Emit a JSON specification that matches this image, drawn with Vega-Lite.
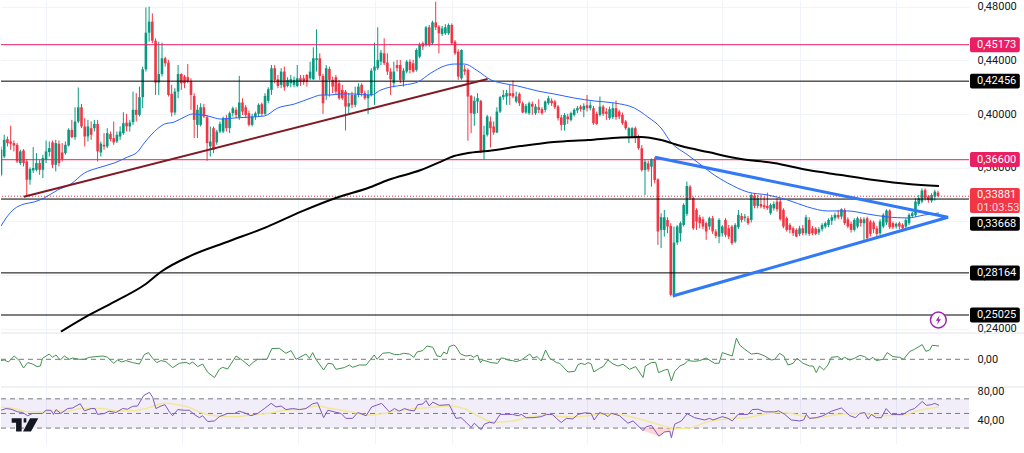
{"$schema":"https://vega.github.io/schema/vega-lite/v6.json","padding":0,"spacing":0,"bounds":"flush","background":"#ffffff","config":{"view":{"stroke":null},"axis":{"labelFont":"Roboto","labelFontSize":11,"labelColor":"#131722"}},
"datasets":{
"candles":[
{"t":0,"o":0.3548,"c":0.3734,"h":0.3759,"l":0.3536},{"t":1,"o":0.3684,"c":0.3808,"h":0.3846,"l":0.3672},{"t":2,"o":0.3813,"c":0.3784,"h":0.3833,"l":0.3759},{"t":3,"o":0.3796,"c":0.3779,"h":0.3913,"l":0.3734},{"t":4,"o":0.3784,"c":0.3766,"h":0.3803,"l":0.3722},{"t":5,"o":0.3771,"c":0.3647,"h":0.3784,"l":0.3635},{"t":6,"o":0.3635,"c":0.3722,"h":0.3734,"l":0.3622},{"t":7,"o":0.3729,"c":0.3635,"h":0.3739,"l":0.361},{"t":8,"o":0.3647,"c":0.3511,"h":0.366,"l":0.3387},{"t":9,"o":0.3511,"c":0.359,"h":0.3603,"l":0.3474},
{"t":10,"o":0.358,"c":0.3598,"h":0.3754,"l":0.356},{"t":11,"o":0.3585,"c":0.3635,"h":0.3709,"l":0.3573},{"t":12,"o":0.3635,"c":0.3585,"h":0.366,"l":0.3548},{"t":13,"o":0.3585,"c":0.3672,"h":0.3697,"l":0.3523},{"t":14,"o":0.366,"c":0.3722,"h":0.3803,"l":0.3635},{"t":15,"o":0.3717,"c":0.3746,"h":0.3796,"l":0.3684},{"t":16,"o":0.3789,"c":0.3622,"h":0.3803,"l":0.3598},{"t":17,"o":0.3622,"c":0.3784,"h":0.3808,"l":0.3573},{"t":18,"o":0.3779,"c":0.3635,"h":0.3803,"l":0.361},{"t":19,"o":0.3714,"c":0.3665,"h":0.3784,"l":0.3647},
{"t":20,"o":0.3709,"c":0.3771,"h":0.3796,"l":0.3697},{"t":21,"o":0.3766,"c":0.3883,"h":0.3895,"l":0.3759},{"t":22,"o":0.3883,"c":0.3828,"h":0.3957,"l":0.3821},{"t":23,"o":0.3828,"c":0.3945,"h":0.4051,"l":0.3808},{"t":24,"o":0.3945,"c":0.4051,"h":0.4198,"l":0.3932},{"t":25,"o":0.4051,"c":0.3908,"h":0.4076,"l":0.3895},{"t":26,"o":0.3908,"c":0.3833,"h":0.397,"l":0.3759},{"t":27,"o":0.3833,"c":0.3908,"h":0.3957,"l":0.3796},{"t":28,"o":0.3895,"c":0.3846,"h":0.3945,"l":0.3808},{"t":29,"o":0.3895,"c":0.3927,"h":0.3957,"l":0.387},
{"t":30,"o":0.3927,"c":0.3722,"h":0.3957,"l":0.3647},{"t":31,"o":0.3714,"c":0.3779,"h":0.3796,"l":0.3684},{"t":32,"o":0.3771,"c":0.3759,"h":0.3858,"l":0.3734},{"t":33,"o":0.3759,"c":0.3858,"h":0.3895,"l":0.3746},{"t":34,"o":0.3851,"c":0.3813,"h":0.387,"l":0.3796},{"t":35,"o":0.3821,"c":0.3789,"h":0.3945,"l":0.3771},{"t":36,"o":0.3796,"c":0.3846,"h":0.387,"l":0.3784},{"t":37,"o":0.3833,"c":0.387,"h":0.3908,"l":0.3808},{"t":38,"o":0.3858,"c":0.3932,"h":0.4014,"l":0.3846},{"t":39,"o":0.3937,"c":0.3908,"h":0.4002,"l":0.387},
{"t":40,"o":0.3908,"c":0.3937,"h":0.3957,"l":0.387},{"t":41,"o":0.394,"c":0.4032,"h":0.4168,"l":0.392},{"t":42,"o":0.4032,"c":0.3994,"h":0.4156,"l":0.3945},{"t":43,"o":0.3994,"c":0.4126,"h":0.4205,"l":0.3982},{"t":44,"o":0.4126,"c":0.4334,"h":0.4354,"l":0.4044},{"t":45,"o":0.4334,"c":0.4607,"h":0.4795,"l":0.4317},{"t":46,"o":0.4607,"c":0.4689,"h":0.48,"l":0.454},{"t":47,"o":0.4689,"c":0.4547,"h":0.4751,"l":0.4528},{"t":48,"o":0.4547,"c":0.4235,"h":0.4565,"l":0.4143},{"t":49,"o":0.4235,"c":0.4299,"h":0.454,"l":0.4143},
{"t":50,"o":0.4299,"c":0.4416,"h":0.4533,"l":0.428},{"t":51,"o":0.4416,"c":0.4379,"h":0.4428,"l":0.4354},{"t":52,"o":0.4384,"c":0.4143,"h":0.4404,"l":0.4131},{"t":53,"o":0.4151,"c":0.4012,"h":0.4218,"l":0.3982},{"t":54,"o":0.4012,"c":0.4168,"h":0.4193,"l":0.3994},{"t":55,"o":0.4168,"c":0.4299,"h":0.4366,"l":0.4118},{"t":56,"o":0.4299,"c":0.423,"h":0.4304,"l":0.418},{"t":57,"o":0.428,"c":0.423,"h":0.4292,"l":0.4193},{"t":58,"o":0.4275,"c":0.4242,"h":0.4374,"l":0.423},{"t":59,"o":0.4247,"c":0.4143,"h":0.4267,"l":0.4032},
{"t":60,"o":0.4136,"c":0.3957,"h":0.4156,"l":0.3821},{"t":61,"o":0.392,"c":0.4032,"h":0.4069,"l":0.3821},{"t":62,"o":0.392,"c":0.4051,"h":0.4081,"l":0.3908},{"t":63,"o":0.4051,"c":0.3982,"h":0.4076,"l":0.397},{"t":64,"o":0.3977,"c":0.3784,"h":0.3994,"l":0.3652},{"t":65,"o":0.3759,"c":0.3796,"h":0.3908,"l":0.3684},{"t":66,"o":0.3895,"c":0.3734,"h":0.3908,"l":0.3709},{"t":67,"o":0.3789,"c":0.387,"h":0.3883,"l":0.3771},{"t":68,"o":0.387,"c":0.3927,"h":0.3945,"l":0.3858},{"t":69,"o":0.387,"c":0.397,"h":0.3982,"l":0.3858},
{"t":70,"o":0.397,"c":0.3895,"h":0.3994,"l":0.387},{"t":71,"o":0.3895,"c":0.4007,"h":0.4019,"l":0.3858},{"t":72,"o":0.4007,"c":0.4044,"h":0.4056,"l":0.3982},{"t":73,"o":0.4032,"c":0.3994,"h":0.4051,"l":0.397},{"t":74,"o":0.3975,"c":0.4086,"h":0.4285,"l":0.3957},{"t":75,"o":0.4086,"c":0.4019,"h":0.4118,"l":0.3994},{"t":76,"o":0.4051,"c":0.3994,"h":0.4069,"l":0.397},{"t":77,"o":0.4007,"c":0.392,"h":0.4027,"l":0.3908},{"t":78,"o":0.392,"c":0.3982,"h":0.4002,"l":0.3908},{"t":79,"o":0.3982,"c":0.4007,"h":0.4019,"l":0.3957},
{"t":80,"o":0.4002,"c":0.4069,"h":0.4081,"l":0.3982},{"t":81,"o":0.4074,"c":0.4002,"h":0.4086,"l":0.3987},{"t":82,"o":0.4002,"c":0.4136,"h":0.4156,"l":0.3994},{"t":83,"o":0.4099,"c":0.4185,"h":0.42,"l":0.4081},{"t":84,"o":0.418,"c":0.4342,"h":0.4366,"l":0.4143},{"t":85,"o":0.4342,"c":0.4255,"h":0.4366,"l":0.423},{"t":86,"o":0.426,"c":0.421,"h":0.4292,"l":0.4193},{"t":87,"o":0.4218,"c":0.4317,"h":0.4342,"l":0.4193},{"t":88,"o":0.4317,"c":0.42,"h":0.4354,"l":0.4175},{"t":89,"o":0.421,"c":0.4255,"h":0.4275,"l":0.42},
{"t":90,"o":0.423,"c":0.426,"h":0.4292,"l":0.42},{"t":91,"o":0.4218,"c":0.4255,"h":0.428,"l":0.42},{"t":92,"o":0.421,"c":0.4267,"h":0.4366,"l":0.42},{"t":93,"o":0.4267,"c":0.4242,"h":0.4292,"l":0.421},{"t":94,"o":0.4267,"c":0.4242,"h":0.4292,"l":0.4218},{"t":95,"o":0.4292,"c":0.4242,"h":0.4299,"l":0.4205},{"t":96,"o":0.4267,"c":0.4317,"h":0.4391,"l":0.4255},{"t":97,"o":0.426,"c":0.4416,"h":0.4498,"l":0.4255},{"t":98,"o":0.4404,"c":0.4416,"h":0.4632,"l":0.4317},{"t":99,"o":0.4416,"c":0.4285,"h":0.4453,"l":0.4255},
{"t":100,"o":0.4285,"c":0.4081,"h":0.4299,"l":0.4002},{"t":101,"o":0.4143,"c":0.4342,"h":0.4366,"l":0.4106},{"t":102,"o":0.4337,"c":0.4255,"h":0.4354,"l":0.4131},{"t":103,"o":0.4255,"c":0.4205,"h":0.428,"l":0.4156},{"t":104,"o":0.4275,"c":0.4168,"h":0.4292,"l":0.4143},{"t":105,"o":0.423,"c":0.4118,"h":0.4255,"l":0.4106},{"t":106,"o":0.418,"c":0.4118,"h":0.4218,"l":0.4106},{"t":107,"o":0.4168,"c":0.4056,"h":0.418,"l":0.3878},{"t":108,"o":0.4056,"c":0.4081,"h":0.4156,"l":0.4007},{"t":109,"o":0.4143,"c":0.4069,"h":0.4168,"l":0.4044},
{"t":110,"o":0.4069,"c":0.4143,"h":0.4205,"l":0.4051},{"t":111,"o":0.4143,"c":0.4205,"h":0.423,"l":0.4126},{"t":112,"o":0.4218,"c":0.4156,"h":0.423,"l":0.4131},{"t":113,"o":0.4156,"c":0.4118,"h":0.4175,"l":0.4106},{"t":114,"o":0.4118,"c":0.4143,"h":0.418,"l":0.4},{"t":115,"o":0.4143,"c":0.4324,"h":0.4342,"l":0.4131},{"t":116,"o":0.4324,"c":0.4354,"h":0.4533,"l":0.4069},{"t":117,"o":0.4342,"c":0.4404,"h":0.4647,"l":0.4329},{"t":118,"o":0.4391,"c":0.4458,"h":0.4478,"l":0.4366},{"t":119,"o":0.4453,"c":0.4379,"h":0.4565,"l":0.4366},
{"t":120,"o":0.4384,"c":0.4317,"h":0.4453,"l":0.4292},{"t":121,"o":0.4317,"c":0.426,"h":0.4342,"l":0.4143},{"t":122,"o":0.423,"c":0.4317,"h":0.4391,"l":0.42},{"t":123,"o":0.4366,"c":0.4342,"h":0.4404,"l":0.4317},{"t":124,"o":0.4366,"c":0.4255,"h":0.4404,"l":0.423},{"t":125,"o":0.4255,"c":0.4324,"h":0.4342,"l":0.4205},{"t":126,"o":0.4317,"c":0.4391,"h":0.4404,"l":0.4304},{"t":127,"o":0.4391,"c":0.4329,"h":0.4409,"l":0.4304},{"t":128,"o":0.4379,"c":0.4317,"h":0.4404,"l":0.4309},{"t":129,"o":0.4329,"c":0.4478,"h":0.449,"l":0.4317},
{"t":130,"o":0.4428,"c":0.4515,"h":0.4533,"l":0.4416},{"t":131,"o":0.4528,"c":0.4503,"h":0.454,"l":0.4478},{"t":132,"o":0.4515,"c":0.4647,"h":0.4657,"l":0.4503},{"t":133,"o":0.4647,"c":0.4515,"h":0.4664,"l":0.4503},{"t":134,"o":0.4528,"c":0.4684,"h":0.4696,"l":0.4515},{"t":135,"o":0.4684,"c":0.4647,"h":0.4838,"l":0.4627},{"t":136,"o":0.4652,"c":0.4602,"h":0.4664,"l":0.4453},{"t":137,"o":0.4597,"c":0.4639,"h":0.4657,"l":0.4582},{"t":138,"o":0.4602,"c":0.4647,"h":0.4671,"l":0.459},{"t":139,"o":0.4602,"c":0.4664,"h":0.4676,"l":0.459},
{"t":140,"o":0.4664,"c":0.4528,"h":0.4676,"l":0.4515},{"t":141,"o":0.454,"c":0.4453,"h":0.4552,"l":0.4441},{"t":142,"o":0.4466,"c":0.428,"h":0.4483,"l":0.4255},{"t":143,"o":0.4267,"c":0.4478,"h":0.4483,"l":0.4255},{"t":144,"o":0.4334,"c":0.4317,"h":0.4366,"l":0.4292},{"t":145,"o":0.4329,"c":0.4131,"h":0.4342,"l":0.3801},{"t":146,"o":0.4136,"c":0.4007,"h":0.4143,"l":0.3858},{"t":147,"o":0.4002,"c":0.4099,"h":0.4131,"l":0.3913},{"t":148,"o":0.4094,"c":0.4118,"h":0.4156,"l":0.4007},{"t":149,"o":0.4099,"c":0.3722,"h":0.4106,"l":0.3709},
{"t":150,"o":0.3722,"c":0.3846,"h":0.3913,"l":0.366},{"t":151,"o":0.3846,"c":0.3982,"h":0.3994,"l":0.3833},{"t":152,"o":0.3945,"c":0.3895,"h":0.3982,"l":0.3751},{"t":153,"o":0.3908,"c":0.3863,"h":0.3945,"l":0.3846},{"t":154,"o":0.3863,"c":0.4019,"h":0.4051,"l":0.3858},{"t":155,"o":0.4019,"c":0.4126,"h":0.4136,"l":0.4007},{"t":156,"o":0.4126,"c":0.4143,"h":0.418,"l":0.4106},{"t":157,"o":0.4131,"c":0.4156,"h":0.418,"l":0.4069},{"t":158,"o":0.4156,"c":0.4136,"h":0.4218,"l":0.4069},{"t":159,"o":0.4156,"c":0.4131,"h":0.425,"l":0.4118},
{"t":160,"o":0.4094,"c":0.4131,"h":0.4168,"l":0.4081},{"t":161,"o":0.4151,"c":0.4081,"h":0.4161,"l":0.4061},{"t":162,"o":0.4081,"c":0.4012,"h":0.4094,"l":0.4007},{"t":163,"o":0.4012,"c":0.4061,"h":0.4076,"l":0.4002},{"t":164,"o":0.4007,"c":0.4081,"h":0.4094,"l":0.3994},{"t":165,"o":0.4076,"c":0.4056,"h":0.4094,"l":0.3994},{"t":166,"o":0.4007,"c":0.4056,"h":0.4076,"l":0.3994},{"t":167,"o":0.4051,"c":0.4032,"h":0.4111,"l":0.4007},{"t":168,"o":0.4037,"c":0.4007,"h":0.4051,"l":0.3994},{"t":169,"o":0.4032,"c":0.4094,"h":0.4101,"l":0.4012},
{"t":170,"o":0.4081,"c":0.4118,"h":0.4136,"l":0.4069},{"t":171,"o":0.4101,"c":0.4081,"h":0.4118,"l":0.4061},{"t":172,"o":0.4094,"c":0.4051,"h":0.4106,"l":0.4037},{"t":173,"o":0.4056,"c":0.397,"h":0.4069,"l":0.3952},{"t":174,"o":0.3975,"c":0.392,"h":0.3994,"l":0.3878},{"t":175,"o":0.392,"c":0.3994,"h":0.4007,"l":0.3878},{"t":176,"o":0.3982,"c":0.3962,"h":0.4002,"l":0.3927},{"t":177,"o":0.3957,"c":0.4007,"h":0.4019,"l":0.3945},{"t":178,"o":0.3994,"c":0.4032,"h":0.4044,"l":0.3982},{"t":179,"o":0.4027,"c":0.4044,"h":0.4061,"l":0.4007},
{"t":180,"o":0.4056,"c":0.4037,"h":0.4069,"l":0.4019},{"t":181,"o":0.4032,"c":0.4061,"h":0.4081,"l":0.3977},{"t":182,"o":0.4066,"c":0.4044,"h":0.4143,"l":0.4019},{"t":183,"o":0.4044,"c":0.4066,"h":0.4094,"l":0.4027},{"t":184,"o":0.4044,"c":0.3932,"h":0.4061,"l":0.392},{"t":185,"o":0.4002,"c":0.3927,"h":0.4019,"l":0.392},{"t":186,"o":0.3994,"c":0.4056,"h":0.4131,"l":0.3982},{"t":187,"o":0.4056,"c":0.4002,"h":0.4069,"l":0.3987},{"t":188,"o":0.4019,"c":0.4002,"h":0.4044,"l":0.3957},{"t":189,"o":0.397,"c":0.4037,"h":0.4056,"l":0.3957},
{"t":190,"o":0.3977,"c":0.4044,"h":0.4081,"l":0.3962},{"t":191,"o":0.4044,"c":0.3977,"h":0.4101,"l":0.3957},{"t":192,"o":0.4019,"c":0.3982,"h":0.4032,"l":0.3962},{"t":193,"o":0.3994,"c":0.3932,"h":0.4012,"l":0.392},{"t":194,"o":0.3945,"c":0.3895,"h":0.3957,"l":0.3883},{"t":195,"o":0.3838,"c":0.3895,"h":0.3903,"l":0.3784},{"t":196,"o":0.3833,"c":0.3895,"h":0.3903,"l":0.3821},{"t":197,"o":0.3895,"c":0.3821,"h":0.3908,"l":0.3784},{"t":198,"o":0.3833,"c":0.3746,"h":0.3846,"l":0.3734},{"t":199,"o":0.3745,"c":0.3583,"h":0.3769,"l":0.3571},
{"t":200,"o":0.3583,"c":0.3645,"h":0.3663,"l":0.3397},{"t":201,"o":0.3633,"c":0.3588,"h":0.3653,"l":0.3571},{"t":202,"o":0.3608,"c":0.3663,"h":0.367,"l":0.3459},{"t":203,"o":0.3663,"c":0.3509,"h":0.3678,"l":0.3484},{"t":204,"o":0.3514,"c":0.3125,"h":0.3521,"l":0.3025},{"t":205,"o":0.3137,"c":0.3231,"h":0.3261,"l":0.3001},{"t":206,"o":0.3137,"c":0.3231,"h":0.3286,"l":0.3087},{"t":207,"o":0.3211,"c":0.3162,"h":0.3231,"l":0.3112},{"t":208,"o":0.3167,"c":0.2653,"h":0.3187,"l":0.2641},{"t":209,"o":0.2653,"c":0.3043,"h":0.3162,"l":0.2634},
{"t":210,"o":0.3043,"c":0.3162,"h":0.3174,"l":0.3025},{"t":211,"o":0.3112,"c":0.3187,"h":0.3199,"l":0.305},{"t":212,"o":0.3174,"c":0.3323,"h":0.3335,"l":0.3162},{"t":213,"o":0.3256,"c":0.3464,"h":0.3497,"l":0.3241},{"t":214,"o":0.3459,"c":0.3373,"h":0.3472,"l":0.336},{"t":215,"o":0.3373,"c":0.3149,"h":0.3385,"l":0.3137},{"t":216,"o":0.3286,"c":0.3199,"h":0.3298,"l":0.3137},{"t":217,"o":0.3231,"c":0.3187,"h":0.3249,"l":0.3149},{"t":218,"o":0.3216,"c":0.3162,"h":0.3236,"l":0.3142},{"t":219,"o":0.3187,"c":0.3125,"h":0.3199,"l":0.3063},
{"t":220,"o":0.3162,"c":0.3224,"h":0.3236,"l":0.3137},{"t":221,"o":0.3224,"c":0.3125,"h":0.3241,"l":0.3107},{"t":222,"o":0.3125,"c":0.3092,"h":0.3142,"l":0.3075},{"t":223,"o":0.3087,"c":0.3211,"h":0.3224,"l":0.3038},{"t":224,"o":0.3112,"c":0.3162,"h":0.3174,"l":0.3087},{"t":225,"o":0.3211,"c":0.31,"h":0.3224,"l":0.3082},{"t":226,"o":0.3149,"c":0.3087,"h":0.3174,"l":0.3068},{"t":227,"o":0.3162,"c":0.3038,"h":0.3174,"l":0.3025},{"t":228,"o":0.305,"c":0.3174,"h":0.3187,"l":0.3038},{"t":229,"o":0.3157,"c":0.3249,"h":0.3286,"l":0.3142},
{"t":230,"o":0.3241,"c":0.3211,"h":0.3261,"l":0.3192},{"t":231,"o":0.3224,"c":0.3236,"h":0.3256,"l":0.3199},{"t":232,"o":0.3224,"c":0.3187,"h":0.3241,"l":0.3174},{"t":233,"o":0.3211,"c":0.3397,"h":0.341,"l":0.3192},{"t":234,"o":0.3392,"c":0.3316,"h":0.341,"l":0.3298},{"t":235,"o":0.3316,"c":0.3373,"h":0.3397,"l":0.3298},{"t":236,"o":0.333,"c":0.3311,"h":0.3397,"l":0.3298},{"t":237,"o":0.3321,"c":0.3306,"h":0.3385,"l":0.3291},{"t":238,"o":0.3316,"c":0.3298,"h":0.3415,"l":0.3286},{"t":239,"o":0.3261,"c":0.3323,"h":0.3335,"l":0.3249},
{"t":240,"o":0.3298,"c":0.333,"h":0.3348,"l":0.3281},{"t":241,"o":0.3348,"c":0.3291,"h":0.3373,"l":0.3273},{"t":242,"o":0.3348,"c":0.3216,"h":0.3365,"l":0.3206},{"t":243,"o":0.3286,"c":0.3162,"h":0.3298,"l":0.3149},{"t":244,"o":0.3224,"c":0.3137,"h":0.3236,"l":0.3125},{"t":245,"o":0.3174,"c":0.3137,"h":0.3187,"l":0.3112},{"t":246,"o":0.3149,"c":0.3112,"h":0.3162,"l":0.3092},{"t":247,"o":0.3137,"c":0.3087,"h":0.3149,"l":0.3082},{"t":248,"o":0.3107,"c":0.3149,"h":0.3167,"l":0.3092},{"t":249,"o":0.3149,"c":0.3112,"h":0.3174,"l":0.3097},
{"t":250,"o":0.3112,"c":0.3231,"h":0.3249,"l":0.3097},{"t":251,"o":0.3211,"c":0.3107,"h":0.3231,"l":0.3092},{"t":252,"o":0.3149,"c":0.3112,"h":0.3167,"l":0.3097},{"t":253,"o":0.3147,"c":0.3107,"h":0.3157,"l":0.3097},{"t":254,"o":0.3117,"c":0.3142,"h":0.3157,"l":0.31},{"t":255,"o":0.3142,"c":0.3174,"h":0.3187,"l":0.3125},{"t":256,"o":0.3162,"c":0.3187,"h":0.3199,"l":0.3149},{"t":257,"o":0.3174,"c":0.3211,"h":0.3224,"l":0.3157},{"t":258,"o":0.3206,"c":0.3231,"h":0.3249,"l":0.3174},{"t":259,"o":0.3224,"c":0.3249,"h":0.3266,"l":0.3206},
{"t":260,"o":0.3249,"c":0.3231,"h":0.3286,"l":0.3216},{"t":261,"o":0.3236,"c":0.3291,"h":0.3298,"l":0.3216},{"t":262,"o":0.3286,"c":0.3187,"h":0.3298,"l":0.3174},{"t":263,"o":0.3216,"c":0.3162,"h":0.3231,"l":0.3149},{"t":264,"o":0.3182,"c":0.3137,"h":0.3199,"l":0.3117},{"t":265,"o":0.3137,"c":0.3211,"h":0.3224,"l":0.3125},{"t":266,"o":0.3162,"c":0.3224,"h":0.3236,"l":0.3149},{"t":267,"o":0.3216,"c":0.3187,"h":0.3231,"l":0.3162},{"t":268,"o":0.3187,"c":0.3216,"h":0.3231,"l":0.3063},{"t":269,"o":0.3224,"c":0.3075,"h":0.3236,"l":0.3058},
{"t":270,"o":0.3199,"c":0.3107,"h":0.3211,"l":0.3087},{"t":271,"o":0.3192,"c":0.3142,"h":0.3206,"l":0.3112},{"t":272,"o":0.3149,"c":0.3107,"h":0.3167,"l":0.3082},{"t":273,"o":0.3112,"c":0.3199,"h":0.3216,"l":0.31},{"t":274,"o":0.3162,"c":0.3249,"h":0.3261,"l":0.3149},{"t":275,"o":0.3192,"c":0.3281,"h":0.3291,"l":0.3174},{"t":276,"o":0.3281,"c":0.3157,"h":0.3291,"l":0.3142},{"t":277,"o":0.3187,"c":0.3157,"h":0.3199,"l":0.3142},{"t":278,"o":0.3162,"c":0.3182,"h":0.3192,"l":0.3147},{"t":279,"o":0.3187,"c":0.3162,"h":0.3199,"l":0.3142},
{"t":280,"o":0.3174,"c":0.3149,"h":0.3187,"l":0.3125},{"t":281,"o":0.3162,"c":0.3211,"h":0.3224,"l":0.3137},{"t":282,"o":0.3187,"c":0.3249,"h":0.3261,"l":0.3174},{"t":283,"o":0.3241,"c":0.3261,"h":0.3273,"l":0.3231},{"t":284,"o":0.3249,"c":0.3348,"h":0.3373,"l":0.3236},{"t":285,"o":0.333,"c":0.3373,"h":0.3397,"l":0.3316},{"t":286,"o":0.3348,"c":0.343,"h":0.3447,"l":0.3335},{"t":287,"o":0.3435,"c":0.3373,"h":0.3447,"l":0.3355},{"t":288,"o":0.3385,"c":0.336,"h":0.3397,"l":0.334},{"t":289,"o":0.3355,"c":0.3397,"h":0.341,"l":0.334},
{"t":290,"o":0.3385,"c":0.3422,"h":0.3435,"l":0.3355},{"t":291,"o":0.3415,"c":0.339,"h":0.343,"l":0.338}],
"blue":[{"t":0,"p":0.3166},{"t":1.6,"p":0.3226},{"t":4.1,"p":0.3293},{"t":7.2,"p":0.333},{"t":10.3,"p":0.3345},{"t":13.4,"p":0.3375},{"t":17.6,"p":0.3434},{"t":21.7,"p":0.3479},{"t":25.9,"p":0.3561},{"t":30,"p":0.3598},{"t":35.2,"p":0.3636},{"t":39.3,"p":0.368},{"t":42.4,"p":0.3718},{"t":44.5,"p":0.3785},{"t":46.6,"p":0.3844},{"t":50.8,"p":0.3926},{"t":53.8,"p":0.3941},{"t":56.9,"p":0.3978},{"t":59.5,"p":0.4001},{"t":64.2,"p":0.3986},{"t":68.3,"p":0.3963},{"t":72.4,"p":0.3971},{"t":77.6,"p":0.3978},{"t":81.8,"p":0.3986},{"t":85.9,"p":0.4045},{"t":91.1,"p":0.4075},{"t":96.3,"p":0.412},{"t":99.4,"p":0.4142},{"t":102,"p":0.4142},{"t":105.6,"p":0.415},{"t":109.7,"p":0.415},{"t":114.9,"p":0.4142},{"t":118,"p":0.418},{"t":121,"p":0.4202},{"t":125.2,"p":0.4217},{"t":129.4,"p":0.4239},{"t":133.5,"p":0.4306},{"t":137.7,"p":0.4359},{"t":140.8,"p":0.4373},{"t":143.9,"p":0.4373},{"t":148.1,"p":0.4321},{"t":152.2,"p":0.4254},{"t":155.3,"p":0.4232},{"t":160.4,"p":0.421},{"t":166.7,"p":0.4172},{"t":171.8,"p":0.415},{"t":178,"p":0.412},{"t":184.2,"p":0.4098},{"t":190.4,"p":0.4083},{"t":196.7,"p":0.4045},{"t":200.9,"p":0.3978},{"t":205,"p":0.3896},{"t":208,"p":0.3792},{"t":213.3,"p":0.3695},{"t":217.4,"p":0.3621},{"t":221.5,"p":0.3546},{"t":225.7,"p":0.3486},{"t":231.9,"p":0.3419},{"t":238.1,"p":0.3397},{"t":244.3,"p":0.336},{"t":250.5,"p":0.3308},{"t":256.7,"p":0.3278},{"t":263,"p":0.3278},{"t":269.2,"p":0.3255},{"t":275.4,"p":0.3233},{"t":281.6,"p":0.3226},{"t":286.7,"p":0.3248},{"t":291.3,"p":0.3263}],
"black":[{"t":18.6,"p":0.2378},{"t":27.4,"p":0.2503},{"t":36.2,"p":0.2614},{"t":44.5,"p":0.2726},{"t":49.7,"p":0.2825},{"t":59,"p":0.2945},{"t":70.4,"p":0.3049},{"t":82.8,"p":0.3161},{"t":93.2,"p":0.3273},{"t":105.1,"p":0.3384},{"t":114,"p":0.3449},{"t":120.2,"p":0.3509},{"t":130.4,"p":0.3583},{"t":135.7,"p":0.3636},{"t":140.7,"p":0.3688},{"t":145,"p":0.371},{"t":151.2,"p":0.3725},{"t":161.5,"p":0.3762},{"t":171.7,"p":0.3792},{"t":182.3,"p":0.3807},{"t":192.5,"p":0.3826},{"t":198.8,"p":0.3829},{"t":205,"p":0.3807},{"t":211.2,"p":0.3762},{"t":219.6,"p":0.3717},{"t":229.8,"p":0.3665},{"t":240,"p":0.3636},{"t":250.6,"p":0.3583},{"t":260.9,"p":0.3546},{"t":271.1,"p":0.3509},{"t":281.7,"p":0.3479},{"t":291.3,"p":0.3464}],
"trend":[{"t":7.1,"p":0.33843},{"t":151.1,"p":0.42616}],
"triangle":[{"n":0,"t":203.1,"p":0.3678},{"n":1,"t":294.1,"p":0.32308},{"n":2,"t":208.6,"p":0.26442}],
"levels":[{"price":0.45173,"kind":"pink"},{"price":0.42456,"kind":"black"},{"price":0.366,"kind":"pink"},{"price":0.33668,"kind":"black"},{"price":0.28164,"kind":"black"},{"price":0.25025,"kind":"black"}],
"tags":[{"label":"0,45173","at":0.45173,"top":0.45732,"bot":0.44614,"kind":"pink"},{"label":"0,42456","at":0.42456,"top":0.4301,"bot":0.419,"kind":"black"},{"label":"0,36600","at":0.3657,"top":0.3717,"bot":0.3606,"kind":"pink"},{"label":"0,33881","at":0.3395,"top":0.34492,"bot":0.32628,"kind":"red"},{"label":"01:03:53","at":0.3303},{"label":"0,33668","at":0.3183,"top":0.32353,"bot":0.31309,"kind":"black"},{"label":"0,28164","at":0.28164,"top":0.2872,"bot":0.276,"kind":"black"},{"label":"0,25025","at":0.25025,"top":0.2558,"bot":0.2447,"kind":"black"}],
"mom":[{"t":0,"v":-0.0013},{"t":1,"v":-0.0007},{"t":2.3,"v":-0.0027},{"t":4.1,"v":0.0033},{"t":5.7,"v":-0.0013},{"t":7,"v":-0.0087},{"t":8.3,"v":-0.0033},{"t":9.8,"v":-0.0047},{"t":11.2,"v":-0.0073},{"t":12.2,"v":-0.0067},{"t":12.9,"v":0.001},{"t":15,"v":0.0053},{"t":16,"v":0.002},{"t":17.1,"v":0.0043},{"t":18.4,"v":-0.0007},{"t":19.7,"v":0.0033},{"t":21.2,"v":0},{"t":22.3,"v":0.0013},{"t":24.3,"v":0},{"t":25.9,"v":0},{"t":27.4,"v":0.002},{"t":29.5,"v":0.0027},{"t":31.6,"v":0.0033},{"t":33.1,"v":0.002},{"t":35,"v":-0.004},{"t":36.2,"v":-0.0007},{"t":37.5,"v":-0.0027},{"t":38.8,"v":-0.0013},{"t":40.9,"v":-0.0033},{"t":43,"v":-0.0047},{"t":44.5,"v":0.0047},{"t":45.8,"v":0.0067},{"t":47.1,"v":0.001},{"t":48.4,"v":-0.0033},{"t":49.7,"v":-0.0013},{"t":51.2,"v":-0.0023},{"t":53.3,"v":-0.0083},{"t":55.4,"v":-0.004},{"t":57.5,"v":-0.003},{"t":58.5,"v":-0.0047},{"t":59.5,"v":-0.0027},{"t":61.1,"v":-0.0073},{"t":62.6,"v":-0.0047},{"t":64.2,"v":-0.013},{"t":66.3,"v":-0.0183},{"t":67.8,"v":-0.01},{"t":68.8,"v":-0.008},{"t":70.4,"v":-0.0097},{"t":73,"v":0.0033},{"t":75.1,"v":-0.0013},{"t":77.1,"v":-0.0067},{"t":78.2,"v":-0.0033},{"t":79.7,"v":0},{"t":82.6,"v":0},{"t":84.1,"v":0.0107},{"t":86.4,"v":0.011},{"t":88.5,"v":0.006},{"t":90.1,"v":0.0087},{"t":91.6,"v":0},{"t":94.7,"v":0.0053},{"t":95.8,"v":0.001},{"t":96.8,"v":0.0067},{"t":97.8,"v":0},{"t":100.2,"v":-0.0107},{"t":101.5,"v":-0.004},{"t":103,"v":-0.0047},{"t":104,"v":-0.01},{"t":106.6,"v":-0.0083},{"t":108.2,"v":-0.0057},{"t":109.2,"v":-0.008},{"t":111.3,"v":-0.0057},{"t":113.4,"v":-0.0057},{"t":115.9,"v":0.0043},{"t":116.8,"v":0},{"t":118.5,"v":0.006},{"t":120.6,"v":0.0067},{"t":122.2,"v":0.0047},{"t":123.7,"v":0.0047},{"t":125,"v":0.006},{"t":126.8,"v":0.0053},{"t":128.2,"v":0.002},{"t":129.2,"v":0.0073},{"t":131,"v":0.0087},{"t":132.3,"v":0.0133},{"t":134.1,"v":0.012},{"t":135.4,"v":0.0033},{"t":136.6,"v":0.0027},{"t":137.5,"v":0.0073},{"t":138.5,"v":0.0053},{"t":139.2,"v":0.0127},{"t":140.6,"v":0.0143},{"t":141.3,"v":0.0127},{"t":142.7,"v":0.0053},{"t":144.4,"v":0.0033},{"t":145.8,"v":0.004},{"t":146.8,"v":0.002},{"t":148,"v":0.0043},{"t":148.9,"v":-0.0033},{"t":149.6,"v":-0.0007},{"t":152.2,"v":-0.0033},{"t":154.2,"v":-0.004},{"t":155.3,"v":0.0013},{"t":156.3,"v":0.001},{"t":157.4,"v":-0.0007},{"t":158.9,"v":-0.0013},{"t":160,"v":-0.0023},{"t":161.6,"v":-0.0007},{"t":164.2,"v":0.0053},{"t":165.2,"v":0.0013},{"t":166.5,"v":0.0027},{"t":167.8,"v":-0.0017},{"t":169.1,"v":0.0093},{"t":170.4,"v":0.001},{"t":171.6,"v":-0.0013},{"t":172.5,"v":-0.0033},{"t":173.5,"v":-0.004},{"t":176.1,"v":-0.0127},{"t":178.2,"v":-0.012},{"t":179.2,"v":-0.0053},{"t":180.2,"v":-0.004},{"t":181.3,"v":-0.0053},{"t":182.3,"v":-0.0033},{"t":183.3,"v":-0.0047},{"t":184.1,"v":-0.0127},{"t":185.9,"v":-0.009},{"t":187,"v":-0.0073},{"t":188.5,"v":-0.0007},{"t":190.1,"v":-0.0047},{"t":191.6,"v":-0.0067},{"t":193.2,"v":-0.005},{"t":195.2,"v":-0.01},{"t":197.1,"v":-0.0073},{"t":199.4,"v":-0.0183},{"t":200.1,"v":-0.0067},{"t":202,"v":-0.0033},{"t":203.3,"v":-0.003},{"t":204.2,"v":-0.0133},{"t":206.1,"v":-0.0107},{"t":207.1,"v":-0.01},{"t":208.2,"v":-0.0217},{"t":209.2,"v":-0.0123},{"t":210.8,"v":-0.0067},{"t":212.3,"v":-0.0047},{"t":213.3,"v":-0.0013},{"t":215.4,"v":-0.002},{"t":217,"v":-0.0013},{"t":219,"v":0.0013},{"t":221.6,"v":-0.004},{"t":223,"v":-0.004},{"t":224,"v":0.0067},{"t":227.1,"v":0.0033},{"t":228.4,"v":0.0213},{"t":229.4,"v":0.0143},{"t":231,"v":0.01},{"t":233,"v":0.0053},{"t":235.1,"v":0.006},{"t":237.2,"v":0.0033},{"t":239.2,"v":-0.0007},{"t":240.3,"v":0},{"t":241.8,"v":0.006},{"t":243.1,"v":0.0033},{"t":244.4,"v":-0.0057},{"t":246,"v":-0.004},{"t":247.2,"v":0.001},{"t":249.1,"v":-0.004},{"t":251.1,"v":-0.0067},{"t":252.2,"v":-0.0067},{"t":253.2,"v":-0.0133},{"t":254.2,"v":-0.0067},{"t":255.5,"v":-0.0107},{"t":256.8,"v":-0.0057},{"t":257.9,"v":0.002},{"t":259.9,"v":0.0027},{"t":261,"v":0},{"t":262,"v":0.002},{"t":263.6,"v":-0.0007},{"t":265.1,"v":0.001},{"t":266.7,"v":0.004},{"t":268.2,"v":0.0027},{"t":269.6,"v":-0.0007},{"t":270.8,"v":0.002},{"t":271.8,"v":-0.0013},{"t":273.9,"v":0},{"t":275.2,"v":0.0067},{"t":277,"v":0.0027},{"t":279.1,"v":0.002},{"t":280.3,"v":0},{"t":282.2,"v":0.0077},{"t":283.7,"v":0.01},{"t":286.1,"v":0.0147},{"t":287.2,"v":0.008},{"t":288.4,"v":0.0093},{"t":289.2,"v":0.014},{"t":291.3,"v":0.0133}],
"rsi":[{"t":0,"r":54.4},{"t":1.6,"r":56.7},{"t":3.1,"r":55.8},{"t":5.2,"r":52.2},{"t":6.7,"r":51.3},{"t":8.3,"r":46.9},{"t":9.8,"r":50},{"t":12.9,"r":50},{"t":14,"r":54.4},{"t":15.5,"r":54.4},{"t":16.3,"r":48.7},{"t":17.1,"r":55.3},{"t":18.6,"r":50},{"t":20.7,"r":56.7},{"t":22.3,"r":57.5},{"t":23.3,"r":60.2},{"t":24.6,"r":63.3},{"t":25.9,"r":53.6},{"t":28,"r":56.7},{"t":29.2,"r":56.7},{"t":30,"r":48.7},{"t":32.1,"r":50},{"t":33.6,"r":53.1},{"t":35.7,"r":51.3},{"t":37.8,"r":56.7},{"t":39.3,"r":55.8},{"t":40.9,"r":59.8},{"t":42.4,"r":60.2},{"t":44.3,"r":74.4},{"t":46.1,"r":78.9},{"t":47.1,"r":72.2},{"t":48.1,"r":56.7},{"t":49.7,"r":60.2},{"t":50.9,"r":62},{"t":52.3,"r":52.2},{"t":53.3,"r":46.9},{"t":54.9,"r":55.3},{"t":56.9,"r":54.4},{"t":58.5,"r":54.4},{"t":60,"r":48.7},{"t":61.6,"r":44.2},{"t":62.6,"r":46.9},{"t":64.2,"r":38.9},{"t":66.3,"r":39.8},{"t":67.8,"r":45.6},{"t":70.4,"r":50},{"t":72.5,"r":50},{"t":74,"r":53.1},{"t":76.1,"r":50},{"t":77.6,"r":46.9},{"t":79.7,"r":50},{"t":81.8,"r":56.7},{"t":83.9,"r":63.8},{"t":85.4,"r":58.9},{"t":87,"r":60.2},{"t":88.5,"r":55.3},{"t":90.6,"r":56.7},{"t":92.7,"r":55.3},{"t":94.7,"r":56.7},{"t":96.8,"r":63.3},{"t":98.3,"r":64.7},{"t":100.2,"r":44.2},{"t":101.5,"r":54.4},{"t":103.5,"r":52.2},{"t":105.6,"r":50},{"t":107.1,"r":43.3},{"t":109.2,"r":43.3},{"t":110.8,"r":51.3},{"t":113.4,"r":46.9},{"t":115.1,"r":58.9},{"t":116.5,"r":61.1},{"t":118.2,"r":63.8},{"t":120.6,"r":52.2},{"t":122.2,"r":56.7},{"t":123.7,"r":53.1},{"t":125.3,"r":56.7},{"t":126.8,"r":54.4},{"t":128.4,"r":53.6},{"t":129.4,"r":62},{"t":131,"r":62.9},{"t":132,"r":67.8},{"t":133,"r":60.2},{"t":134.1,"r":65.5},{"t":136.1,"r":61.1},{"t":139.2,"r":62},{"t":141.3,"r":43.3},{"t":142.9,"r":44.2},{"t":144.4,"r":38},{"t":146,"r":30.9},{"t":147,"r":36.7},{"t":149.1,"r":27.8},{"t":150.1,"r":35.3},{"t":151.7,"r":38},{"t":153.2,"r":36.7},{"t":155,"r":48.7},{"t":157.4,"r":48.7},{"t":158.9,"r":48.7},{"t":160.6,"r":46.9},{"t":161.6,"r":48.7},{"t":163.1,"r":44.2},{"t":165.2,"r":44.2},{"t":167.8,"r":45.6},{"t":169.4,"r":48.7},{"t":171.2,"r":48.7},{"t":172.5,"r":43.3},{"t":174,"r":37.6},{"t":175.6,"r":43.3},{"t":177.6,"r":42.5},{"t":179.2,"r":48.7},{"t":181.3,"r":50.9},{"t":183.3,"r":50},{"t":184.2,"r":41.1},{"t":185.9,"r":51.3},{"t":187.5,"r":48.7},{"t":188.5,"r":45.6},{"t":189.5,"r":50.4},{"t":192.1,"r":46.9},{"t":194.7,"r":36.7},{"t":196.3,"r":39.8},{"t":199.4,"r":26.5},{"t":200.4,"r":31.8},{"t":202,"r":33.6},{"t":204.3,"r":18.9},{"t":206.1,"r":24.7},{"t":207.7,"r":25.6},{"t":208.2,"r":16.7},{"t":209.2,"r":35.3},{"t":211.3,"r":39.8},{"t":213.1,"r":49.6},{"t":215.4,"r":44.2},{"t":218.5,"r":41.1},{"t":220.1,"r":43.3},{"t":221.1,"r":41.1},{"t":224,"r":45.6},{"t":225.8,"r":43.3},{"t":227.1,"r":39.8},{"t":228.9,"r":48.7},{"t":232,"r":48.7},{"t":233.3,"r":55.3},{"t":235.1,"r":55.8},{"t":237.2,"r":52.2},{"t":240.3,"r":52.2},{"t":241.5,"r":53.6},{"t":243.4,"r":48.7},{"t":245.4,"r":41.1},{"t":248,"r":39.8},{"t":249.3,"r":41.1},{"t":250.1,"r":48.7},{"t":251.1,"r":43.3},{"t":253.2,"r":44.2},{"t":255.3,"r":46.9},{"t":257.9,"r":53.1},{"t":261,"r":57.5},{"t":263.6,"r":46.9},{"t":265.4,"r":44.2},{"t":266.7,"r":50},{"t":268.2,"r":51.3},{"t":269.3,"r":42.5},{"t":270.3,"r":48.7},{"t":271.8,"r":44.2},{"t":273.4,"r":44.2},{"t":274.9,"r":56.7},{"t":276.5,"r":48.7},{"t":280.1,"r":48.7},{"t":282.2,"r":54.4},{"t":283.7,"r":56.7},{"t":286.1,"r":66.4},{"t":287.4,"r":61.1},{"t":288.9,"r":62},{"t":290,"r":63.8},{"t":291.3,"r":61.1}],
"rsima":[{"t":0,"r":58.9},{"t":4.1,"r":56.7},{"t":8.3,"r":52.2},{"t":12.4,"r":52.2},{"t":16.6,"r":53.1},{"t":20.7,"r":53.1},{"t":24.8,"r":56.7},{"t":31.1,"r":56.7},{"t":36.2,"r":53.6},{"t":41.4,"r":53.6},{"t":45.5,"r":57.5},{"t":50.7,"r":63.8},{"t":54.9,"r":62},{"t":58,"r":58.9},{"t":62.1,"r":51.3},{"t":66.3,"r":46.9},{"t":72.5,"r":45.6},{"t":77.6,"r":47.8},{"t":82.8,"r":50},{"t":88,"r":54.4},{"t":93.2,"r":55.8},{"t":97.8,"r":60.2},{"t":102.5,"r":56.7},{"t":108.7,"r":52.2},{"t":113.9,"r":47.8},{"t":119,"r":50},{"t":124.2,"r":54.4},{"t":129.4,"r":56.7},{"t":134.6,"r":58.9},{"t":139.2,"r":60.2},{"t":143.9,"r":56.7},{"t":148,"r":46.9},{"t":153.2,"r":38},{"t":158.9,"r":39.8},{"t":163.1,"r":44.2},{"t":167.3,"r":46.9},{"t":170.4,"r":48.7},{"t":173.5,"r":45.6},{"t":179.7,"r":45.6},{"t":184.9,"r":48.7},{"t":190.1,"r":49.1},{"t":194.2,"r":46.9},{"t":199.4,"r":41.1},{"t":204.5,"r":34.5},{"t":209.7,"r":29.1},{"t":213.9,"r":30},{"t":219,"r":38},{"t":225.3,"r":42.5},{"t":231.5,"r":44.2},{"t":236.6,"r":48.7},{"t":241.8,"r":51.3},{"t":247,"r":48.7},{"t":252.2,"r":43.3},{"t":257.3,"r":46.9},{"t":262.5,"r":49.6},{"t":267.7,"r":50},{"t":272.9,"r":46.9},{"t":280.1,"r":47.8},{"t":285.3,"r":54.4},{"t":291.3,"r":58.9}]
},
"vconcat":[
{"width":968,"height":333,"layer":[
{"data":{"name":"candles"},"mark":{"type":"rule","strokeWidth":1,"clip":true},"encoding":{
"x":{"field":"t","type":"quantitative","scale":{"domain":[0,300.62],"nice":false,"zero":false},"axis":{"values":[14,56.2,92.2,116.1,140,182,223.9,248.1,278],"grid":true,"gridColor":"#f0f3fa","labels":false,"ticks":false,"domain":false,"title":null}},
"y":{"field":"h","type":"quantitative","scale":{"domain":[0.23684,0.48505],"nice":false,"zero":false},"axis":{"orient":"right","values":[0.24,0.26,0.28,0.3,0.32,0.34,0.36,0.38,0.4,0.42,0.44,0.46,0.48],"grid":true,"gridColor":"#f0f3fa","ticks":false,"domain":false,"title":null,"labelPadding":8,"labelOverlap":false,"labelExpr":"replace(format(datum.value,'.5f'),'.',',')"}},
"y2":{"field":"l"},
"color":{"condition":{"test":"datum.c>=datum.o","value":"#089981"},"value":"#f23645"}}},
{"data":{"name":"candles"},"mark":{"type":"rule","strokeWidth":2.6,"clip":true},"encoding":{
"x":{"field":"t","type":"quantitative","scale":{"domain":[0,300.62],"nice":false,"zero":false}},
"y":{"field":"o","type":"quantitative","scale":{"domain":[0.23684,0.48505],"nice":false,"zero":false}},
"y2":{"field":"c"},
"color":{"condition":{"test":"datum.c>=datum.o","value":"#089981"},"value":"#f23645"}}},
{"data":{"name":"levels"},"mark":{"type":"rule","strokeWidth":1},"encoding":{
"y":{"field":"price","type":"quantitative","scale":{"domain":[0.23684,0.48505],"nice":false,"zero":false}},
"color":{"condition":{"test":"datum.kind=='pink'","value":"#e91e63"},"value":"#000000"}}},
{"data":{"values":[{"price":0.33881}]},"mark":{"type":"rule","strokeWidth":1,"strokeDash":[1,2],"color":"#f23645"},"encoding":{
"y":{"field":"price","type":"quantitative","scale":{"domain":[0.23684,0.48505],"nice":false,"zero":false}}}},
{"data":{"name":"blue"},"mark":{"type":"line","strokeWidth":1,"color":"#2962ff","clip":true,"interpolate":"monotone"},"encoding":{
"x":{"field":"t","type":"quantitative","scale":{"domain":[0,300.62],"nice":false,"zero":false}},
"y":{"field":"p","type":"quantitative","scale":{"domain":[0.23684,0.48505],"nice":false,"zero":false}}}},
{"data":{"name":"black"},"mark":{"type":"line","strokeWidth":2,"color":"#000000","clip":true,"interpolate":"monotone"},"encoding":{
"x":{"field":"t","type":"quantitative","scale":{"domain":[0,300.62],"nice":false,"zero":false}},
"y":{"field":"p","type":"quantitative","scale":{"domain":[0.23684,0.48505],"nice":false,"zero":false}}}},
{"data":{"name":"trend"},"mark":{"type":"line","strokeWidth":2,"color":"#801922"},"encoding":{
"x":{"field":"t","type":"quantitative","scale":{"domain":[0,300.62],"nice":false,"zero":false}},
"y":{"field":"p","type":"quantitative","scale":{"domain":[0.23684,0.48505],"nice":false,"zero":false}}}},
{"data":{"name":"triangle"},"mark":{"type":"line","strokeWidth":3,"color":"#3179f5"},"encoding":{
"x":{"field":"t","type":"quantitative","scale":{"domain":[0,300.62],"nice":false,"zero":false}},
"y":{"field":"p","type":"quantitative","scale":{"domain":[0.23684,0.48505],"nice":false,"zero":false}},
"order":{"field":"n","type":"quantitative"}}},
{"data":{"name":"tags"},"transform":[{"filter":"isValid(datum.top)"}],"mark":{"type":"rect","cornerRadius":2},"encoding":{
"x":{"datum":300.93,"type":"quantitative","scale":{"domain":[0,300.62],"nice":false,"zero":false}},
"x2":{"datum":316.4},
"y":{"field":"top","type":"quantitative","scale":{"domain":[0.23684,0.48505],"nice":false,"zero":false}},
"y2":{"field":"bot"},
"color":{"condition":[{"test":"datum.kind=='pink'","value":"#e91e63"},{"test":"datum.kind=='red'","value":"#f23645"}],"value":"#000000"}}},
{"data":{"name":"tags"},"mark":{"type":"text","align":"left","baseline":"middle","font":"Roboto","fontSize":11},"encoding":{
"x":{"datum":303.1,"type":"quantitative","scale":{"domain":[0,300.62],"nice":false,"zero":false}},
"y":{"field":"at","type":"quantitative","scale":{"domain":[0.23684,0.48505],"nice":false,"zero":false}},
"text":{"field":"label"},
"color":{"condition":{"test":"datum.label=='01:03:53'","value":"#ffd5da"},"value":"#ffffff"}}},
{"data":{"values":[{"t":291.1,"p":0.24653}]},"mark":{"type":"point","filled":true,"fill":"#ffffff","stroke":"#9c27b0","strokeWidth":1.5,"size":250,"opacity":1},"encoding":{
"x":{"field":"t","type":"quantitative","scale":{"domain":[0,300.62],"nice":false,"zero":false}},
"y":{"field":"p","type":"quantitative","scale":{"domain":[0.23684,0.48505],"nice":false,"zero":false}}}},
{"data":{"values":[{"t":291.1,"p":0.24653}]},"mark":{"type":"point","filled":true,"color":"#9c27b0","size":110,"opacity":1,"shape":"M0.25,-0.9 L-0.5,0.15 L-0.05,0.15 L-0.25,0.9 L0.5,-0.15 L0.05,-0.15 Z"},"encoding":{
"x":{"field":"t","type":"quantitative","scale":{"domain":[0,300.62],"nice":false,"zero":false}},
"y":{"field":"p","type":"quantitative","scale":{"domain":[0.23684,0.48505],"nice":false,"zero":false}}}}
]},
{"width":968,"height":54,"layer":[
{"data":{"name":"mom"},"mark":{"type":"line","strokeWidth":1,"color":"#43924f","clip":true},"encoding":{
"x":{"field":"t","type":"quantitative","scale":{"domain":[0,300.62],"nice":false,"zero":false},"axis":{"values":[14,56.2,92.2,116.1,140,182,223.9,248.1,278],"grid":true,"gridColor":"#f0f3fa","labels":false,"ticks":false,"domain":false,"title":null}},
"y":{"field":"v","type":"quantitative","scale":{"domain":[-0.0277,0.0263],"nice":false,"zero":false},"axis":{"orient":"right","values":[0],"grid":false,"ticks":false,"domain":false,"title":null,"labelPadding":8,"labelExpr":"replace(format(datum.value,'.2f'),'.',',')"}}}},
{"data":{"values":[{"v":0}]},"mark":{"type":"rule","strokeWidth":1,"strokeDash":[5,4],"color":"#787b86"},"encoding":{
"y":{"field":"v","type":"quantitative","scale":{"domain":[-0.0277,0.0263],"nice":false,"zero":false}}}},
{"data":{"values":[{"v":0.0263},{"v":-0.0277}]},"mark":{"type":"rule","strokeWidth":1,"color":"#e0e3eb"},"encoding":{
"x":{"datum":0,"type":"quantitative","scale":{"domain":[0,300.62],"nice":false,"zero":false}},
"x2":{"datum":318},
"y":{"field":"v","type":"quantitative","scale":{"domain":[-0.0277,0.0263],"nice":false,"zero":false}}}}
]},
{"width":968,"height":57,"layer":[
{"data":{"values":[{"a":30,"b":70}]},"mark":{"type":"rect","color":"#7e57c2","opacity":0.1},"encoding":{
"x":{"datum":0,"type":"quantitative","scale":{"domain":[0,300.62],"nice":false,"zero":false},"axis":{"values":[14,56.2,92.2,116.1,140,182,223.9,248.1,278],"grid":true,"gridColor":"#f0f3fa","labels":false,"ticks":false,"domain":false,"title":null}},
"x2":{"datum":300.62},
"y":{"field":"a","type":"quantitative","scale":{"domain":[8.2,86.2],"nice":false,"zero":false},"axis":{"orient":"right","values":[40,80],"grid":false,"ticks":false,"domain":false,"title":null,"labelPadding":8,"labelExpr":"replace(format(datum.value,'.2f'),'.',',')"}},
"y2":{"field":"b"}}},
{"data":{"values":[{"r":70},{"r":50},{"r":30}]},"mark":{"type":"rule","strokeWidth":1,"strokeDash":[5,4],"color":"#787b86"},"encoding":{
"y":{"field":"r","type":"quantitative","scale":{"domain":[8.2,86.2],"nice":false,"zero":false}}}},
{"data":{"name":"rsi"},"transform":[{"filter":"datum.r<30 && datum.t>190"}],"mark":{"type":"area","color":"#f23645","opacity":0.2},"encoding":{
"x":{"field":"t","type":"quantitative","scale":{"domain":[0,300.62],"nice":false,"zero":false}},
"y":{"field":"r","type":"quantitative","scale":{"domain":[8.2,86.2],"nice":false,"zero":false}},
"y2":{"datum":30}}},
{"data":{"name":"rsima"},"mark":{"type":"line","strokeWidth":1.5,"color":"#f2e79a","clip":true,"interpolate":"monotone"},"encoding":{
"x":{"field":"t","type":"quantitative","scale":{"domain":[0,300.62],"nice":false,"zero":false}},
"y":{"field":"r","type":"quantitative","scale":{"domain":[8.2,86.2],"nice":false,"zero":false}}}},
{"data":{"name":"rsi"},"mark":{"type":"line","strokeWidth":1,"color":"#7e57c2","clip":true},"encoding":{
"x":{"field":"t","type":"quantitative","scale":{"domain":[0,300.62],"nice":false,"zero":false}},
"y":{"field":"r","type":"quantitative","scale":{"domain":[8.2,86.2],"nice":false,"zero":false}}}},
{"data":{"values":[{"t":7.45,"r":34.1}]},"mark":{"type":"point","filled":true,"color":"#131722","size":708,"opacity":1,"shape":"M-1,-0.52 L-0.25,-0.52 L-0.25,0.48 L-0.67,0.48 L-0.67,-0.18 L-1,-0.18 Z M-0.1,-0.52 L0.1,-0.52 L0.1,-0.2 L-0.1,-0.2 Z M0.38,-0.52 L1,-0.52 L0.45,0.48 L-0.15,0.48 Z"},"encoding":{
"x":{"field":"t","type":"quantitative","scale":{"domain":[0,300.62],"nice":false,"zero":false}},
"y":{"field":"r","type":"quantitative","scale":{"domain":[8.2,86.2],"nice":false,"zero":false}}}}
]}
]}
